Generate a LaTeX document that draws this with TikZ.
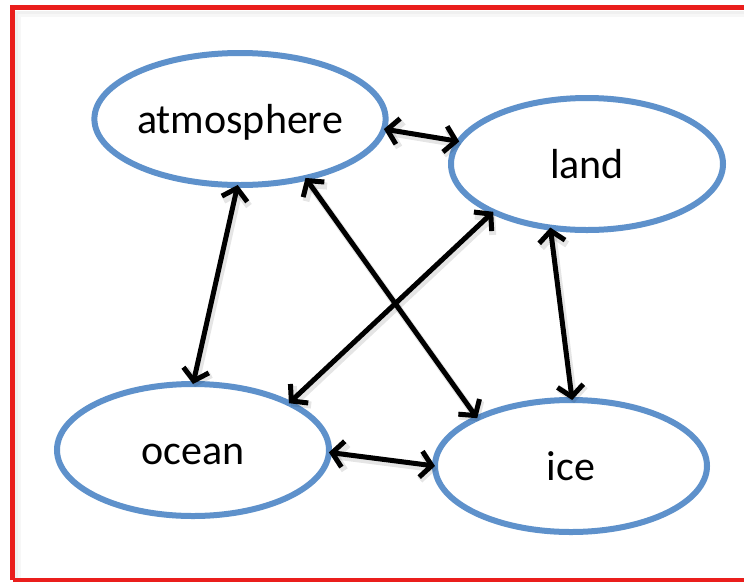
\documentclass[tikz,border=0pt]{standalone}
\usepackage{fontspec}
\setmainfont{Carlito}
\usetikzlibrary{shapes.geometric,arrows.meta}
\definecolor{ellblue}{RGB}{94,145,203}
\definecolor{framered}{RGB}{234,30,28}
\begin{document}
\begin{tikzpicture}[x=1pt,y=-1pt,
  sphere/.style={ellipse,draw=ellblue,line width=6pt,minimum width=272pt,minimum height=132pt,
    inner sep=0pt,outer sep=0pt,text height=29pt,text depth=0pt,font=\fontsize{42}{50}\selectfont},
  link/.style={line width=5pt,line cap=round,line join=round,
    {Straight Barb[length=11pt,width=26pt]}-{Straight Barb[length=11pt,width=26pt]}},
  linkshadow/.style={link,draw=black,opacity=0.1,line width=7pt},
  frameshadow/.style={draw=black,opacity=0.06,line width=3pt}]
\fill[white] (0,0) rectangle (744,582);
\useasboundingbox (0,0) rectangle (744,582);
% frame
\draw[frameshadow] (16.5,582) -- (16.5,12) -- (744,12);
\draw[frameshadow,opacity=0.03] (19.5,582) -- (19.5,15) -- (744,15);
\draw[framered,line width=4.5pt] (12.5,580) -- (12.5,7.5) -- (760,7.5);
\draw[framered,line width=4.5pt] (12.5,580) -- (760,580);
% nodes
\node[sphere] (atm) at (240,119) {atmosphere};
\node[sphere] (land) at (587,164) {land};
\node[sphere] (ocean) at (193,450) {ocean};
\node[sphere] (ice) at (571,466) {ice};
% shadows of connectors
\begin{scope}[transform canvas={shift={(2pt,-3pt)}}]
\draw[linkshadow] (atm.-4) -- (land.170);
\draw[linkshadow] (atm.-92) -- (ocean.90);
\draw[linkshadow] (atm.-42) -- (ice.153);
\draw[linkshadow] (land.-153) -- (ocean.26);
\draw[linkshadow] (land.-120) -- (ice.89);
\draw[linkshadow] (ocean.-1) -- (ice.180);
\end{scope}
% connectors
\draw[link] (atm.-4) -- (land.170);
\draw[link] (atm.-92) -- (ocean.90);
\draw[link] (atm.-42) -- (ice.153);
\draw[link] (land.-153) -- (ocean.26);
\draw[link] (land.-120) -- (ice.89);
\draw[link] (ocean.-1) -- (ice.180);
\end{tikzpicture}
\end{document}
